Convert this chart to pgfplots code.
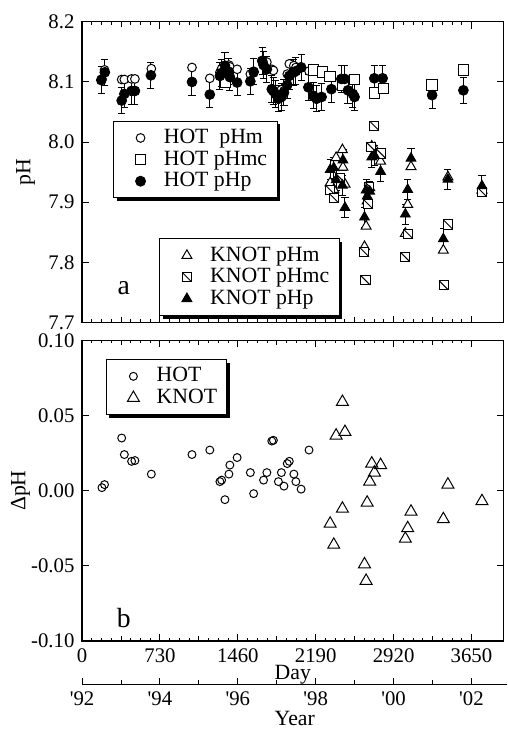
\documentclass[border=0pt]{standalone}
\usepackage{fontspec}
\setmainfont{Liberation Serif}
\usepackage{pgfplots}
\pgfplotsset{compat=1.18}
\usetikzlibrary{shadows}

% square with a falling diagonal
\pgfdeclareplotmark{sqdiag}{%
  \pgfpathrectangle{\pgfqpoint{-\pgfplotmarksize}{-\pgfplotmarksize}}{\pgfqpoint{2\pgfplotmarksize}{2\pgfplotmarksize}}%
  \pgfusepathqfillstroke
  \pgfpathmoveto{\pgfqpoint{-\pgfplotmarksize}{\pgfplotmarksize}}%
  \pgfpathlineto{\pgfqpoint{\pgfplotmarksize}{-\pgfplotmarksize}}%
  \pgfusepathqstroke}

\newcommand{\txt}{\fontsize{11}{13}\selectfont}
\newcommand{\tck}{\fontsize{10.5}{12}\selectfont}

\pgfplotsset{
  panel/.style={
    scale only axis, width=213pt, height=152pt,
    xmin=0, xmax=3950,
    xtick={0,730,...,3650},
    minor x tick num=7,
    extra x ticks={365,1095,1825,2555,3285},
    extra x tick labels={,,,,},
    extra x tick style={major tick length=2.6pt},
    tick align=inside,
    major tick length=3.5pt, minor tick length=1.6pt,
    axis line style={line width=0.7pt},
    every tick/.style={black, line width=0.5pt},
    tick label style={font=\tck},
    label style={font=\txt},
    legend cell align=left,
    legend image code/.code={%
      \path (0pt,0pt) (20pt,0pt);
      \draw[##1] plot coordinates {(9.5pt,0pt)};},
    legend style={draw=black, fill=white, line width=0.5pt, font=\txt,
      drop shadow={shadow xshift=1.6pt, shadow yshift=-1.6pt, fill=black, opacity=1},
      inner xsep=4pt, inner ysep=3pt, nodes={inner sep=1pt}},
  },
  ebar/.style={error bars/.cd, y dir=both, y fixed=#1,
    error bar style={line width=0.5pt},
    error mark options={rotate=90, mark size=1.8pt, line width=0.5pt}},
}

\begin{document}
\txt
\begin{tikzpicture}
\useasboundingbox (-41.5pt,-207pt) rectangle (215pt,163pt);

% ---- panel a, HOT
\begin{axis}[panel, at={(0,0)}, anchor=south west,
  ymin=7.7, ymax=8.2,
  ytick={7.7,7.8,7.9,8.0,8.1,8.2},
  yticklabels={7.7,7.8,7.9,8.0,8.1,8.2},
  xticklabels={},
  ylabel={pH},
  ylabel style={at={(axis description cs:-0.134,0.5)}, anchor=center},
  legend style={at={(0.073,0.671)}, anchor=north west}]

\addplot[only marks, mark=*, mark size=2.2pt, mark options={fill=white, draw=black, line width=0.5pt}] coordinates {
 (186,8.105) (210,8.120) (371,8.104) (396,8.104) (464,8.105) (495,8.105)
 (649,8.122) (1030,8.124) (1197,8.106) (1292,8.116) (1308,8.122) (1339,8.121)
 (1376,8.128) (1385,8.125) (1453,8.121) (1577,8.113) (1608,8.115) (1701,8.135)
 (1732,8.133) (1778,8.121) (1793,8.119) (1840,8.078) (1868,8.087) (1892,8.085)
 (1923,8.113) (1942,8.130) (1985,8.127) (2004,8.124) (2053,8.125) (2127,8.118)
};
\addlegendentry{HOT\ \ pHm}

\addplot[only marks, mark=square*, mark size=2.7pt, mark options={fill=white, draw=black, line width=0.5pt}] coordinates {
 (1345,8.099) (2168,8.120) (2254,8.117) (2322,8.109) (2445,8.094)
 (2554,8.104) (2740,8.082) (2826,8.089) (3281,8.095) (3574,8.120)
};
\addlegendentry{HOT pHmc}

\addplot[only marks, black, mark=*, mark size=2.5pt, ebar=0.022] coordinates {
 (180,8.103) (213,8.116) (371,8.069) (396,8.080) (464,8.085) (495,8.085)
 (645,8.111) (1030,8.100) (1197,8.079) (1292,8.110) (1308,8.115) (1339,8.127)
 (1376,8.117) (1385,8.108) (1453,8.099) (1577,8.101) (1608,8.117) (1688,8.135)
 (1701,8.128) (1732,8.121) (1778,8.088) (1793,8.085) (1812,8.080) (1840,8.072)
 (1868,8.075) (1892,8.082) (1923,8.095) (1942,8.110) (1985,8.116) (2004,8.118)
 (2053,8.124) (2121,8.091) (2167,8.077) (2198,8.072) (2245,8.075) (2337,8.088)
 (2430,8.105) (2461,8.105) (2492,8.086) (2538,8.080) (2554,8.075) (2739,8.106)
 (2817,8.106) (3281,8.078) (3574,8.086)
};
\addlegendentry{HOT pHp}

\node[font=\fontsize{14}{16}\selectfont] at (rel axis cs:0.099,0.115) {a};
\end{axis}

% ---- panel a, KNOT (overlay with its own legend)
\begin{axis}[panel, hide axis, at={(0,0)}, anchor=south west,
  ymin=7.7, ymax=8.2,
  legend style={at={(0.183,0.280)}, anchor=north west}]

\addplot[only marks, mark=triangle*, mark size=2.9pt, mark options={fill=white, draw=black, line width=0.5pt}] coordinates {
 (2325,7.932) (2359,7.921) (2381,7.974) (2440,7.987) (2445,7.958) (2464,7.930)
 (2647,7.826) (2662,7.860) (2672,7.902) (2696,7.924) (2715,7.993) (2740,7.990)
 (2798,7.968) (3030,7.848) (3052,7.896) (3083,7.959) (3386,7.820) (3429,7.942)
 (3748,7.920)
};
\addlegendentry{KNOT pHm}

\addplot[only marks, mark=sqdiag, mark size=2.3pt, mark options={fill=white, draw=black, line width=0.5pt}] coordinates {
 (2322,7.921) (2359,7.907) (2420,7.940) (2646,7.817) (2656,7.770) (2680,7.897)
 (2693,7.926) (2708,7.992) (2739,8.027) (2801,7.981) (3027,7.809) (3058,7.847)
 (3388,7.762) (3429,7.863) (3748,7.917)
};
\addlegendentry{KNOT pHmc}

\addplot[only marks, black, mark=triangle*, mark size=2.9pt, ebar=0.017] coordinates {
 (2325,7.954) (2359,7.957) (2381,7.937) (2440,7.928) (2445,7.970) (2464,7.891)
 (2647,7.875) (2662,7.920) (2672,7.910) (2696,7.918) (2715,7.975) (2740,7.978)
 (2798,7.951) (3030,7.880) (3052,7.921) (3083,7.973) (3386,7.839) (3429,7.938)
 (3748,7.927)
};
\addlegendentry{KNOT pHp}
\end{axis}

% ---- panel b
\begin{axis}[panel, at={(0,-161pt)}, anchor=south west,
  ymin=-0.1, ymax=0.1,
  ytick={-0.1,-0.05,0,0.05,0.1},
  yticklabels={-0.10,-0.05,0.00,0.05,0.10},
  xticklabels={0,730,1460,2190,2920,3650},
  xlabel={Day},
  xlabel style={yshift=6pt},
  ylabel={ΔpH},
  ylabel style={at={(axis description cs:-0.146,0.5)}, anchor=center},
  legend style={at={(0.056,0.9375)}, anchor=north west}]

\addplot[only marks, mark=o, mark size=2pt, mark options={draw=black, line width=0.5pt}] coordinates {
 (186,0.002) (210,0.004) (371,0.035) (396,0.024) (464,0.0195) (495,0.020)
 (649,0.011) (1030,0.024) (1197,0.027) (1292,0.006) (1308,0.007) (1339,-0.006)
 (1376,0.011) (1385,0.017) (1453,0.022) (1577,0.012) (1608,-0.002) (1701,0.007)
 (1732,0.012) (1778,0.033) (1793,0.0335) (1840,0.006) (1868,0.012) (1892,0.003)
 (1923,0.018) (1942,0.0195) (1985,0.011) (2004,0.006) (2053,0.001) (2127,0.027)
};
\addlegendentry{HOT}

\addplot[only marks, mark=triangle, mark size=3.5pt, mark options={draw=black, line width=0.5pt}] coordinates {
 (2325,-0.022) (2359,-0.036) (2381,0.0366) (2440,0.059) (2440,-0.012) (2464,0.039)
 (2647,-0.049) (2662,-0.060) (2672,-0.008) (2696,0.006) (2715,0.018) (2740,0.012)
 (2798,0.017) (3030,-0.032) (3052,-0.025) (3083,-0.014) (3386,-0.019) (3429,0.004)
 (3748,-0.007)
};
\addlegendentry{KNOT}

\node[font=\fontsize{14}{16}\selectfont] at (rel axis cs:0.099,0.076) {b};
\end{axis}

% ---- year axis
\begin{axis}[at={(0,-183pt)}, anchor=south west,
  scale only axis, width=215pt, height=5pt,
  xmin=0, xmax=3987, ymin=0, ymax=1,
  axis x line*=bottom, hide y axis, tick align=inside,
  axis line style={line width=0.7pt},
  every tick/.style={black, line width=0.5pt},
  tick label style={font=\tck},
  label style={font=\txt},
  xtick={0,730,...,3650},
  xticklabels={\textquotesingle92,\textquotesingle94,\textquotesingle96,\textquotesingle98,\textquotesingle00,\textquotesingle02},
  minor xtick={365,1095,1825,2555,3285},
  major tick length=3.5pt, minor tick length=2.4pt,
  xlabel={Year},
  xlabel style={yshift=5pt}]
\end{axis}
\end{tikzpicture}
\end{document}
